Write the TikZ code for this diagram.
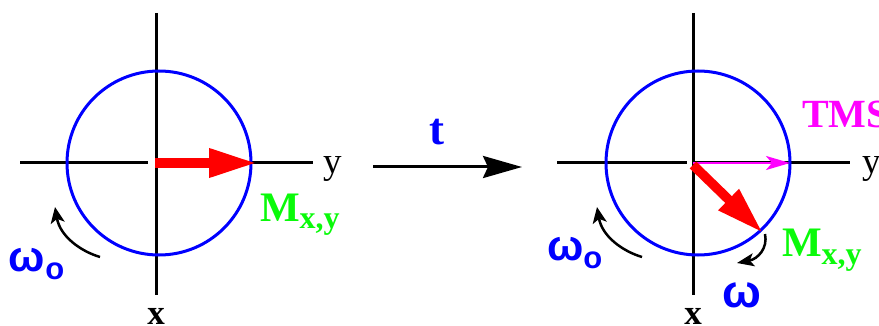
\documentclass[tikz,border=0pt]{standalone}
\usepackage{fontspec}
\setmainfont{Liberation Serif}
\newfontfamily\grkfont{Liberation Sans}
\usetikzlibrary{arrows.meta}
\definecolor{mblue}{RGB}{0,0,255}
\definecolor{mgreen}{RGB}{10,250,10}
\definecolor{mred}{RGB}{255,0,0}
\definecolor{mmag}{RGB}{255,0,255}
\newcommand{\fs}[1]{\fontsize{#1}{#1}\selectfont}
\begin{document}
\begin{tikzpicture}[x=1pt,y=-1pt,
  axis/.style={line width=3pt,black},
  ring/.style={line width=3pt,mblue},
  magvec/.style={line width=9.5pt,mred,-{Triangle[length=48pt,width=27pt]}},
  tmsvec/.style={line width=2.5pt,mmag,-{Stealth[length=24pt,width=14pt,inset=6pt]}},
  timearrow/.style={line width=3pt,black,-{Stealth[length=39pt,width=22pt,inset=5pt]}},
  rotarrow/.style={line width=2.5pt,black,-{Stealth[length=16pt,width=14pt,inset=4pt]}},
  smallrot/.style={line width=2.5pt,black,-{Stealth[length=17pt,width=13pt,inset=4pt]}},
  lbl/.style={inner sep=0pt,outer sep=0pt},
  axlbl/.style={lbl,font=\fs{37}},
  xlbl/.style={lbl,font=\fs{35}\bfseries},
  mlbl/.style={lbl,text=mgreen,font=\fs{42}\bfseries},
  wlbl/.style={lbl,text=mblue,font=\grkfont\bfseries\fs{43}},
  tlbl/.style={lbl,text=mblue,font=\fs{45}\bfseries},
  tmslbl/.style={lbl,text=mmag,font=\fs{40}\bfseries}]
\useasboundingbox (0,0) rectangle (879,326);

% ---------- left diagram ----------
\coordinate (Lc) at (156,163);
\coordinate (Lt) at (156,13);
\coordinate (Lb) at (156,295);
\coordinate (Ll) at (20,163);
\coordinate (Lg) at (148,163);
\coordinate (Lr) at (313,163);
\coordinate (Ls) at (155,163);
\coordinate (Le) at (257,163);
\draw[axis] (Lt) -- (Lb);
\draw[axis] (Ll) -- (Lg);
\draw[axis] (Lc) -- (Lr);
\draw[ring] (159,163) circle[radius=92pt];
\draw[magvec] (Ls) -- (Le);
\node[axlbl,anchor=base west] (Ly) at (323,174) {y};
\node[xlbl,anchor=base] (Lx) at (156,324) {x};
\node[mlbl,anchor=base west] (LM) at (260,222) {M\raisebox{-7pt}{\fs{32}x,y}};
\coordinate (La1) at (100,257);
\coordinate (La2) at (55,207);
\draw[rotarrow] (La1) .. controls (80,251) and (60,236) .. (La2);
\node[wlbl,anchor=base west] (Lw) at (9,272) {ω\raisebox{-8pt}{\fs{31}o}};

% ---------- time arrow ----------
\coordinate (Ta) at (373,167);
\coordinate (Tb) at (522,167);
\draw[timearrow] (Ta) -- (Tb);
\node[tlbl,anchor=base] (T) at (437,145) {t};

% ---------- right diagram ----------
\coordinate (Rc) at (693,163);
\coordinate (Rt) at (693,13);
\coordinate (Rb) at (693,295);
\coordinate (Rl) at (557,163);
\coordinate (Rg) at (687,163);
\coordinate (Rr) at (850,163);
\coordinate (Rm) at (790,163);
\coordinate (Rs) at (693,165);
\coordinate (Re) at (763,233);
\draw[axis] (Rt) -- (Rb);
\draw[axis] (Rl) -- (Rg);
\draw[axis] (Rc) -- (Rr);
\draw[ring] (698,163) circle[radius=92pt];
\draw[tmsvec] (Rc) -- (Rm);
\draw[magvec] (Rs) -- (Re);
\node[axlbl,anchor=base west] (Ry) at (862,174) {y};
\node[xlbl,anchor=base] (Rx) at (693,324) {x};
\node[tmslbl,anchor=base west] (TMS) at (802,128) {TMS};
\node[mlbl,anchor=base west] (RM) at (782,257) {M\raisebox{-7pt}{\fs{32}x,y}};
\coordinate (Ra1) at (642,257);
\coordinate (Ra2) at (597,207);
\draw[rotarrow] (Ra1) .. controls (622,251) and (602,236) .. (Ra2);
\node[wlbl,anchor=base west] (Rw) at (547,260) {ω\raisebox{-8pt}{\fs{31}o}};
\coordinate (Rs1) at (765,234);
\coordinate (Rs2) at (737,263);
\draw[smallrot] (Rs1) .. controls (768,248) and (758,259) .. (Rs2);
\node[wlbl,anchor=base,font=\grkfont\bfseries\fs{46}] (Rom) at (742,307) {ω};
\end{tikzpicture}
\end{document}
